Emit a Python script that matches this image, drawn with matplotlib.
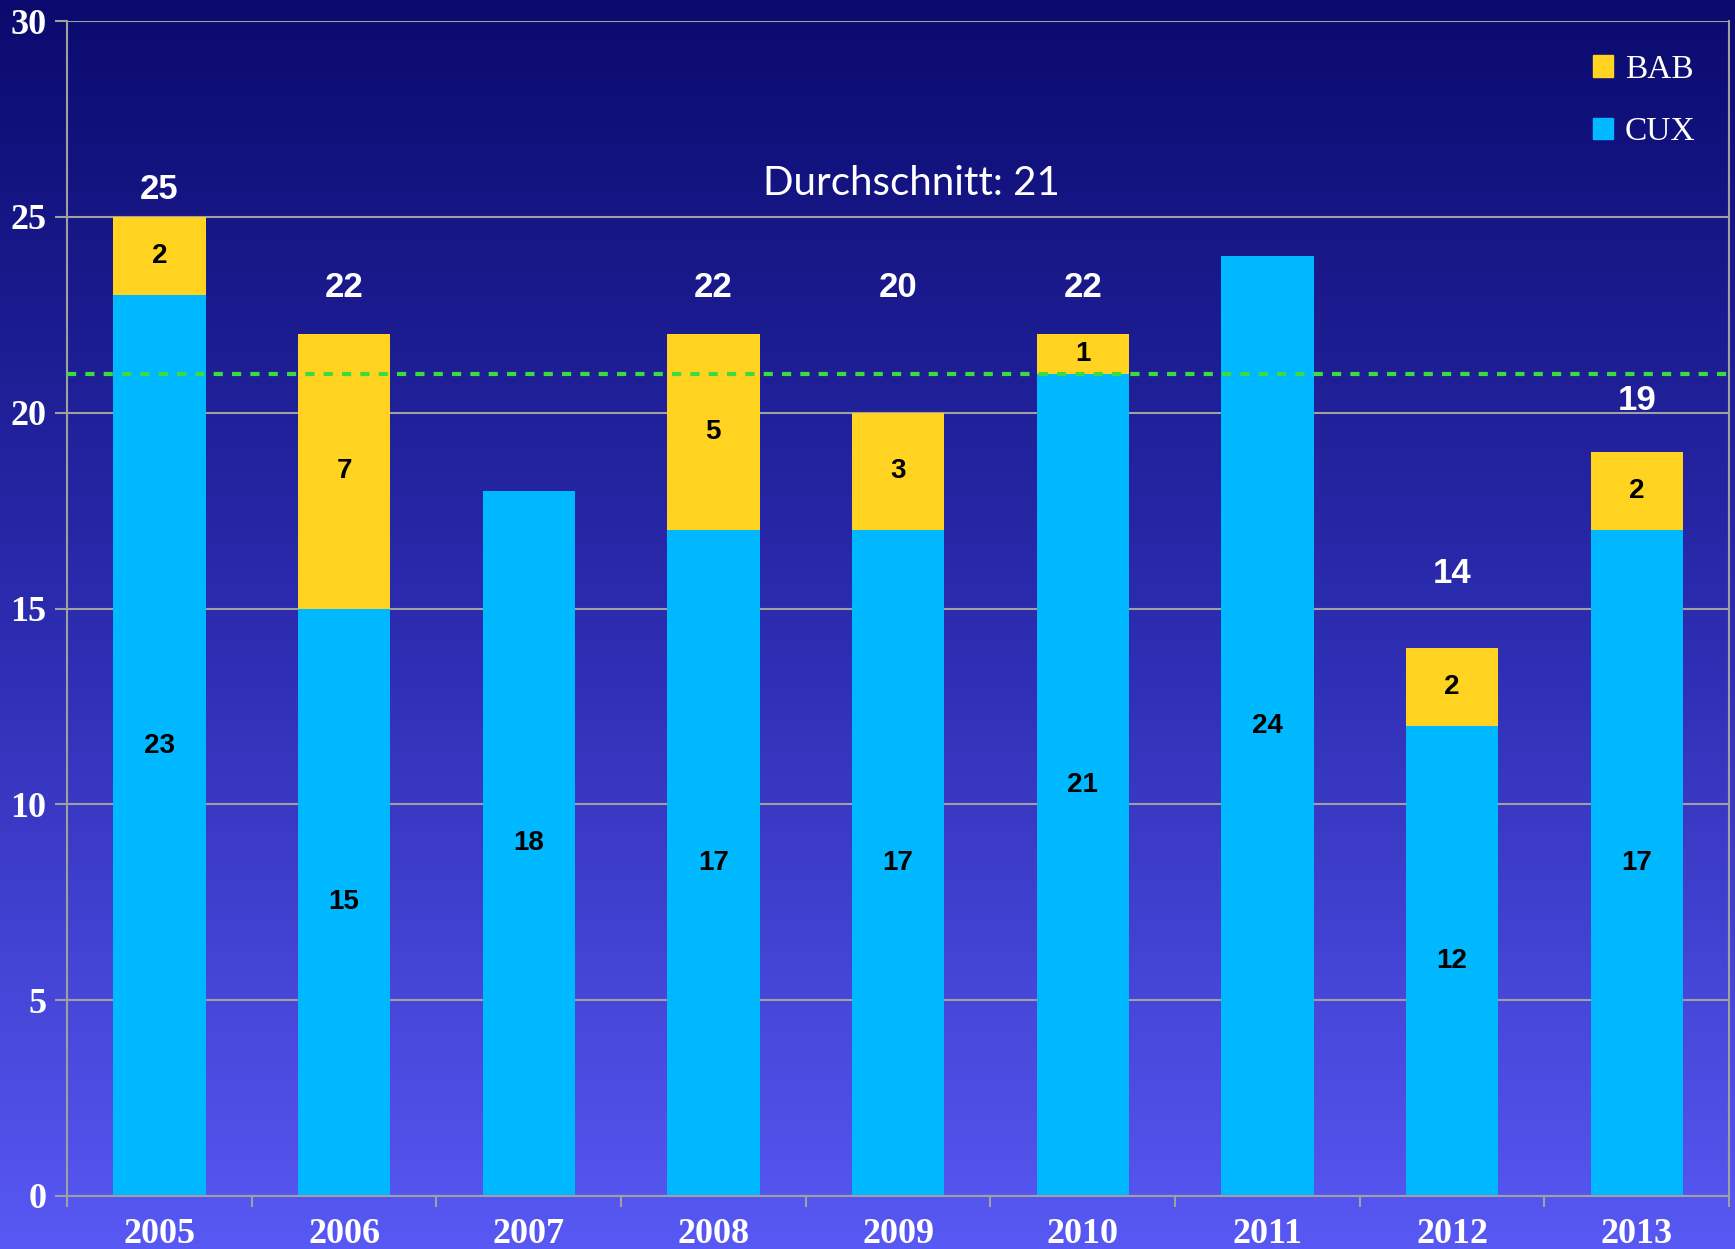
import numpy as np
import matplotlib
matplotlib.use("Agg")
import matplotlib.pyplot as plt
from matplotlib.colors import LinearSegmentedColormap
from matplotlib.patches import Patch

# data
years = ["2005", "2006", "2007", "2008", "2009", "2010", "2011", "2012", "2013"]
cux = [23, 15, 18, 17, 17, 21, 24, 12, 17]
bab = [2, 7, 0, 5, 3, 1, 0, 2, 2]
average = 21

# where the total labels sit above the stack (data units)
total_offset = [0.7, 1.2, 0, 1.2, 3.2, 1.2, 0, 1.9, 1.3]

c_cux = "#00B8FF"
c_bab = "#FFD320"
c_grid = "#A0A0A0"

fig = plt.figure(figsize=(17.35, 12.49), dpi=100)

# gradient background over the whole figure
bg = fig.add_axes([0, 0, 1, 1], zorder=-10)
cmap = LinearSegmentedColormap.from_list("bg", ["#0A0A6E", "#2C2CB0", "#5858F4"])
grad = np.linspace(0, 1, 256).reshape(-1, 1)
bg.imshow(grad, aspect="auto", cmap=cmap, extent=[0, 1, 0, 1])
bg.axis("off")

ax = fig.add_axes([67 / 1735, 1 - 1196 / 1249, (1729 - 67) / 1735, (1196 - 21) / 1249])
ax.set_facecolor("none")

x = np.arange(len(years))
total = np.array(cux) + np.array(bab)
ax.bar(x, cux, width=0.5, color=c_cux, zorder=2)
ax.bar(x, bab, width=0.5, bottom=cux, color=c_bab, zorder=2)

ax.axhline(average, color="#3CDC3C", lw=3, ls=(0, (2.2, 2.2)), zorder=4)

ax.set_xlim(-0.5, len(years) - 0.5)
ax.set_ylim(0, 30)
ax.set_yticks(range(0, 31, 5))
ax.yaxis.grid(True, color=c_grid, lw=1.5, zorder=0)
ax.set_axisbelow(True)

ax.set_xticks(x)
ax.set_xticklabels(years)
ax.set_xticks(np.arange(-0.5, len(years), 1), minor=True)
ax.tick_params(axis="x", which="major", length=0, pad=16)
ax.tick_params(axis="x", which="minor", length=8, width=1.5, color=c_grid, direction="out")
ax.tick_params(axis="y", length=9, width=1.5, color=c_grid, direction="out", pad=6)
for lab in ax.get_xticklabels() + ax.get_yticklabels():
    lab.set_fontfamily("Liberation Serif")
    lab.set_fontweight("bold")
    lab.set_fontsize(26)
    lab.set_color("white")

for s in ["left", "right", "bottom"]:
    ax.spines[s].set_color(c_grid)
    ax.spines[s].set_linewidth(1.5)
ax.spines["top"].set_visible(False)

# value labels
for i in range(len(years)):
    ax.text(x[i], cux[i] / 2, str(cux[i]), ha="center", va="center",
            fontsize=20, fontweight="bold", family="Liberation Sans", color="black", zorder=5)
    if bab[i] > 0:
        ax.text(x[i], cux[i] + bab[i] / 2, str(bab[i]), ha="center", va="center",
                fontsize=20, fontweight="bold", family="Liberation Sans", color="black", zorder=5)
        ax.text(x[i], total[i] + total_offset[i], str(total[i]), ha="center", va="center",
                fontsize=25, fontweight="bold", family="Liberation Sans", color="white", zorder=5)

ax.text(0.508, 0.862, "Durchschnitt: %d" % average, transform=ax.transAxes,
        ha="center", va="center", fontsize=29, family="Lato", color="white")

handles = [Patch(color=c_bab, label="BAB"), Patch(color=c_cux, label="CUX")]
leg = ax.legend(handles=handles, loc="upper right", bbox_to_anchor=(1.0, 1.0),
                borderaxespad=0.6, frameon=False,
                prop={"family": "Liberation Serif", "size": 24},
                handlelength=0.6, handleheight=0.6, handletextpad=0.35, labelspacing=0.95)
for t in leg.get_texts():
    t.set_color("white")

fig.savefig("out.png", dpi=100)
